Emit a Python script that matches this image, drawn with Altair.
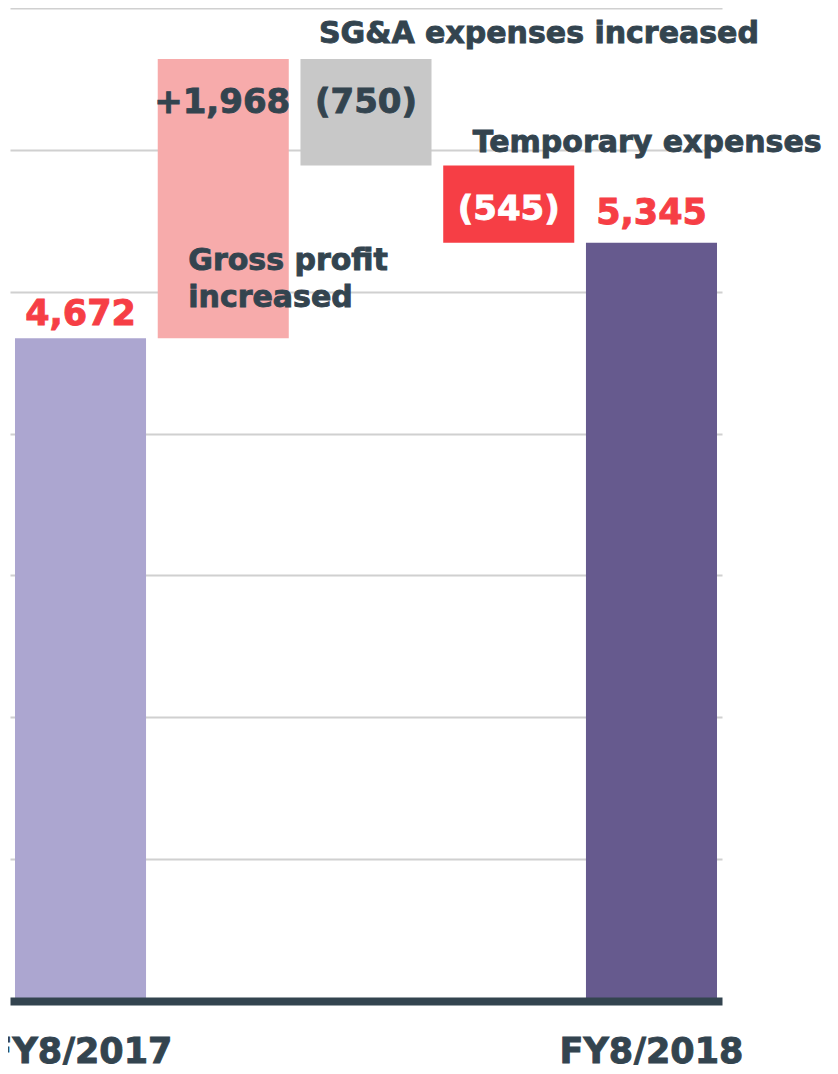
import altair as alt
import pandas as pd

# ---- data ----
categories = ["FY8/2017", "Gross profit", "SG&A", "Temporary", "FY8/2018"]
changes = [4672, 1968, -750, -545, 5345]
kinds = ["total", "delta", "delta", "delta", "total"]
value_labels = ["4,672", "+1,968", "(750)", "(545)", "5,345"]
bar_colors = ["#aca6d0", "#f7abab", "#c8c8c8", "#f63e45", "#665a8e"]
note_texts = ["Gross profit\nincreased", "SG&A expenses increased", "Temporary expenses"]
note_categories = ["Gross profit", "SG&A", "Temporary"]
axis_label_categories = ["FY8/2017", "FY8/2018"]

# waterfall start / end
starts, ends = [], []
running = 0
for c, k in zip(changes, kinds):
    if k == "total":
        starts.append(0)
        ends.append(c)
        running = c
    else:
        starts.append(running)
        running = running + c
        ends.append(running)

df = pd.DataFrame({
    "category": categories,
    "start": starts,
    "end": ends,
    "top": [max(s, e) for s, e in zip(starts, ends)],
    "label": value_labels,
    "color": bar_colors,
})

DARK = "#33444f"
RED = "#f63e45"
FONT = "DejaVu Sans"
SW = 0.9  # slight stroke to make the bold text heavier

xscale = alt.Scale(domain=categories, paddingInner=0.082, paddingOuter=0.035)
yscale = alt.Scale(domain=[0, 7000], nice=False)

x_enc = alt.X(
    "category:N", scale=xscale, sort=categories, title=None,
    axis=alt.Axis(labels=False, ticks=False, domainColor=DARK,
                  domainWidth=8, zindex=1, grid=False),
)

bars = alt.Chart(df).mark_bar().encode(
    x=x_enc,
    y=alt.Y("start:Q", scale=yscale, title=None,
            axis=alt.Axis(labels=False, ticks=False, domain=False, grid=True,
                          gridColor="#d0d0d0", gridWidth=2, values=[1000, 2000, 3000, 4000, 5000, 6000, 7000])),
    y2="end:Q",
    color=alt.Color("color:N", scale=None),
)


def label_layer(rows, color, **mark):
    return alt.Chart(df[df["category"].isin(rows)]).mark_text(
        font=FONT, fontWeight="bold", color=color, stroke=color, strokeWidth=SW, **mark
    ).encode(
        x=alt.X("category:N", scale=xscale, sort=categories),
        y=alt.Y("top:Q", scale=yscale),
        text="label:N",
    )


lab_2017 = label_layer(["FY8/2017"], RED, fontSize=35, dy=-13, baseline="alphabetic")
lab_2018 = label_layer(["FY8/2018"], RED, fontSize=35, dy=-19, baseline="alphabetic")
lab_gp = label_layer(["Gross profit"], DARK, fontSize=34, dy=54, dx=67, align="right", baseline="alphabetic")
lab_sga = label_layer(["SG&A"], DARK, fontSize=34, dy=54, baseline="alphabetic")
lab_tmp = label_layer(["Temporary"], "white", fontSize=34, dy=55, baseline="alphabetic")

# category labels under the axis (only the two totals are labelled)
axis_labels = alt.Chart(df[df["category"].isin(axis_label_categories)]).mark_text(
    font=FONT, fontWeight="bold", fontSize=35, color=DARK, stroke=DARK, strokeWidth=SW,
    baseline="alphabetic", dy=62,
).encode(
    x=alt.X("category:N", scale=xscale, sort=categories),
    y=alt.Y("zero:Q", scale=yscale),
    text="category:N",
).transform_calculate(zero="0")

notes_df = pd.DataFrame({"category": note_categories, "text": note_texts})
notes_df = notes_df.merge(df[["category", "top", "start"]], on="category")


def note_layer(cat, yfield, **mark):
    return alt.Chart(notes_df[notes_df["category"] == cat]).mark_text(
        font=FONT, fontWeight="bold", fontSize=30, color=DARK, stroke=DARK, strokeWidth=SW,
        align="left", baseline="alphabetic", lineBreak="\n", lineHeight=37, **mark
    ).encode(
        x=alt.X("category:N", scale=xscale, sort=categories),
        y=alt.Y(f"{yfield}:Q", scale=yscale),
        text="text:N",
    )


note_gp = note_layer("Gross profit", "start", dx=-35, dy=-68)
note_sga = note_layer("SG&A", "top", dx=-47, dy=-16)
note_tmp = note_layer("Temporary", "top", dx=-36, dy=-13)

chart = alt.layer(
    bars, lab_2017, lab_2018, lab_gp, lab_sga, lab_tmp, note_gp, note_sga, note_tmp, axis_labels
).properties(
    width=712, height=993,
    autosize=alt.AutoSizeParams(type="none"),
    padding={"left": 2, "top": 0, "right": 104, "bottom": 64},
).configure_view(stroke=None)

chart.save("out.html", embed_options={"renderer": "svg", "actions": False})
